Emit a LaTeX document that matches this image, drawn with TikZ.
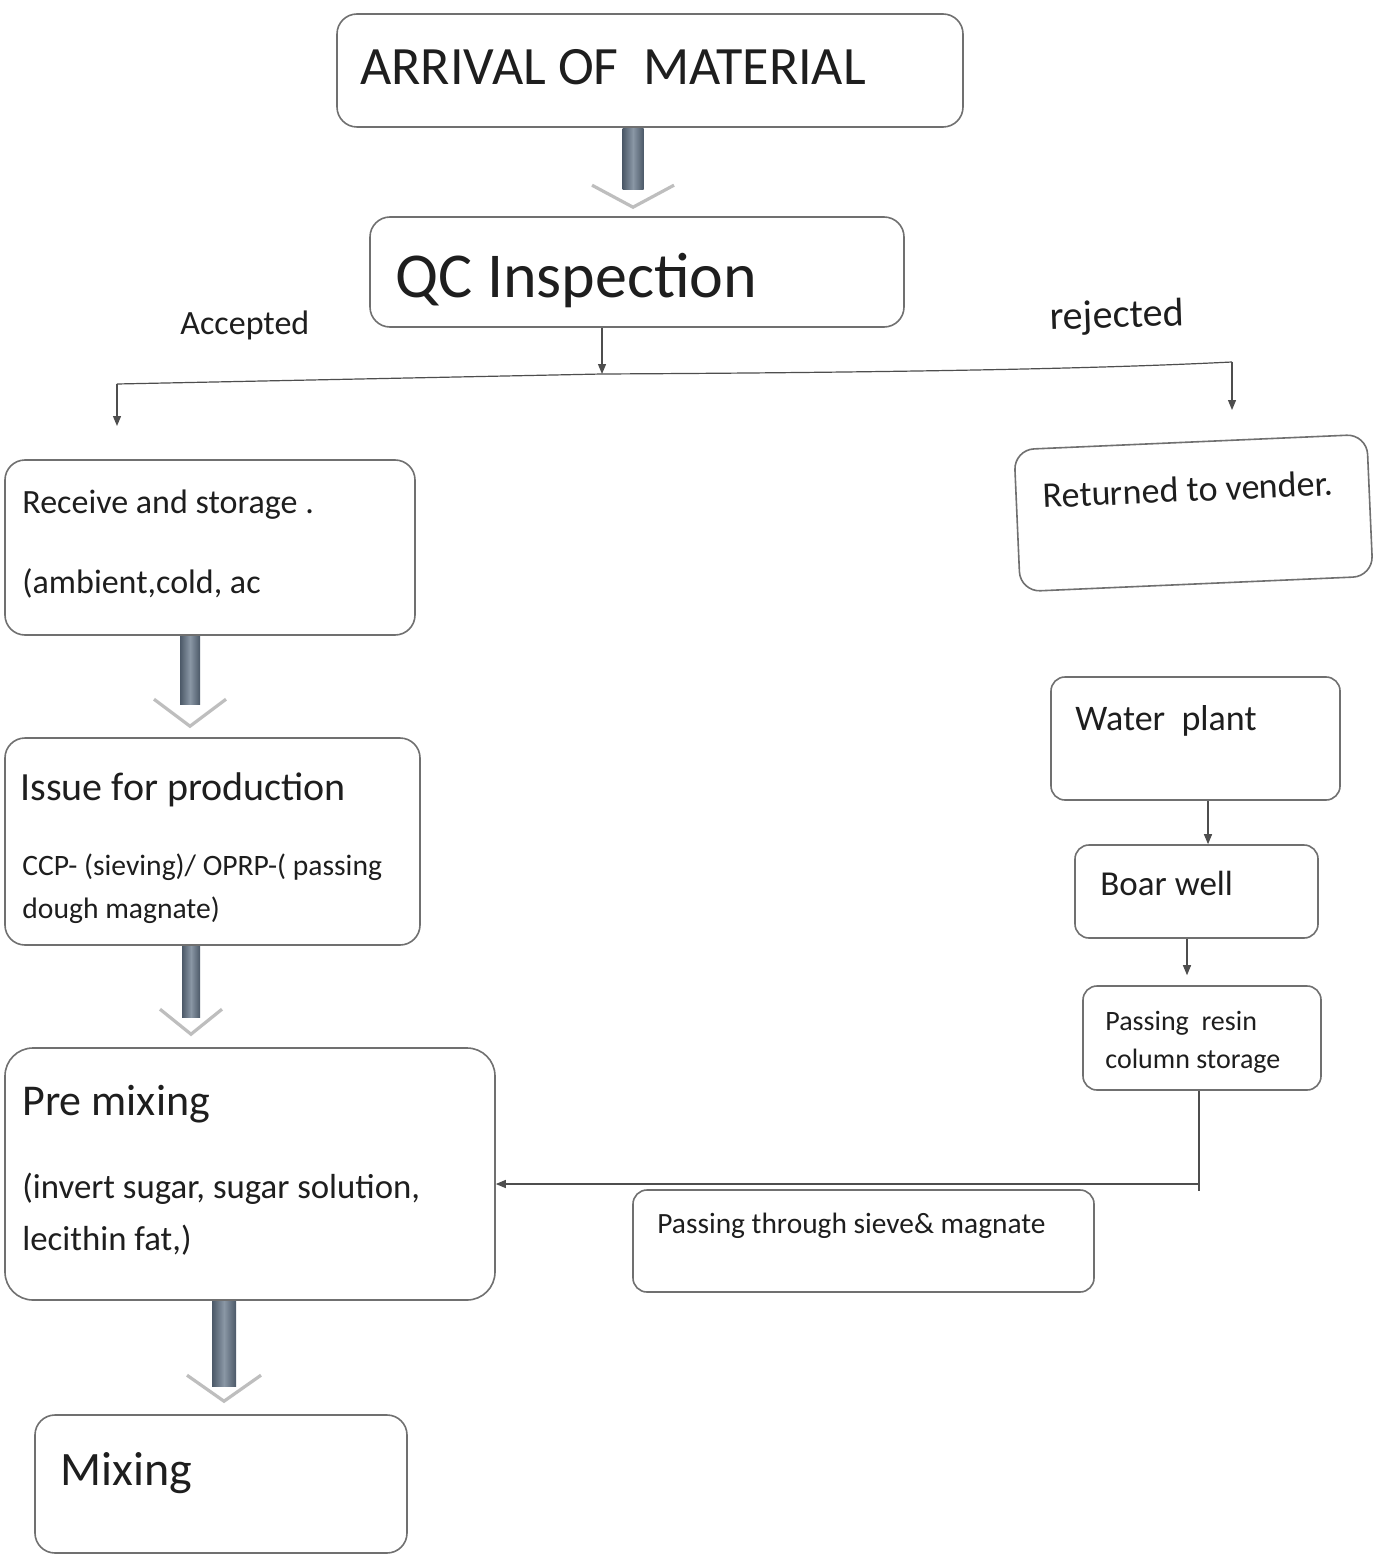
\documentclass[tikz,border=0pt]{standalone}
\usepackage{fontspec}
\setmainfont{Carlito}
\usetikzlibrary{arrows.meta,calc}
\definecolor{ln}{HTML}{707070}
\definecolor{tx}{HTML}{1E1E1E}
\definecolor{shA}{HTML}{4C5968}
\definecolor{shB}{HTML}{8A97A5}
\definecolor{chev}{HTML}{BEBEBE}
\newcommand\fsz[1]{\fontsize{#1}{#1}\selectfont}
\newcommand\fatarr[8]{%
  \draw[chev,line width=1.6pt,line join=miter]
    ($(#2.north -| #3)+(-#5,-#8)$) -- ($(#2.north -| #3)+(0,-#7)$) -- ($(#2.north -| #3)+(#5,-#8)$);
  \shade[left color=shA,right color=shA,middle color=shB]
    ($(#1.south -| #3)+(-#4,1)$) rectangle ($(#2.north -| #3)+(#4,-#6)$);
}
\begin{document}
\begin{tikzpicture}[x=0.5pt,y=-0.5pt,
  box/.style={draw=ln,line width=0.8pt,rounded corners=10pt,inner sep=0pt},
  sbox/.style={box,rounded corners=7pt},
  lbl/.style={anchor=base west,inner sep=0pt,text=tx},
  thinln/.style={draw=ln!70!black,line width=0.6pt},
  tip/.style={-{Triangle[length=5pt,width=4pt]}}]
\useasboundingbox (0,0) rectangle (1381,1556);
\fill[white] (0,0) rectangle (1381,1556);
\clip (0,0) rectangle (1381,1556);

% boxes
\node[box,minimum width=313pt,minimum height=56.5pt] (arrival) at (650,70.5) {};
\node[box,minimum width=267pt,minimum height=55pt] (qc) at (637,272) {};
\node[box,minimum width=205pt,minimum height=87.5pt] (receive) at (210,547.5) {};
\node[box,minimum width=207.5pt,minimum height=103.5pt] (issue) at (212.5,841.5) {};
\node[box,rounded corners=14pt,minimum width=245pt,minimum height=126pt] (premix) at (250,1174) {};
\node[box,minimum width=186pt,minimum height=69pt] (mixing) at (221,1484) {};
\node[box,rotate=2.5,minimum width=176.5pt,minimum height=71pt] (returned) at (1193.5,513) {};
\node[sbox,minimum width=144.5pt,minimum height=61.5pt] (water) at (1195.5,738.5) {};
\node[sbox,minimum width=121.5pt,minimum height=46.5pt] (boar) at (1196.5,891.5) {};
\node[sbox,minimum width=119pt,minimum height=52pt] (resin) at (1202,1038) {};
\node[sbox,minimum width=230.5pt,minimum height=51pt] (sieve) at (863.5,1241) {};

% texts
\node[lbl,font=\fsz{27}] (tArr) at (360,85) {ARRIVAL OF\ \ MATERIAL};
\node[lbl,font=\fsz{32}] (tQC) at (395,298) {QC Inspection};
\node[lbl,font=\fsz{17}] (tAcc) at (180,335) {Accepted};
\node[lbl,font=\fsz{20},rotate=2] (tRej) at (1050,330) {rejected};
\node[lbl,font=\fsz{17}] (tRec1) at (22,513) {Receive and storage .};
\node[lbl,font=\fsz{17}] (tRec2) at (22,593) {(ambient,cold, ac};
\node[lbl,font=\fsz{20}] (tIss1) at (20,800) {Issue for production};
\node[lbl,font=\fsz{14.8}] (tIss2) at (22,875) {CCP- (sieving)/ OPRP-( passing};
\node[lbl,font=\fsz{14.8}] (tIss3) at (22,918) {dough magnate)};
\node[lbl,font=\fsz{22}] (tPre1) at (22,1115) {Pre mixing};
\node[lbl,font=\fsz{17.4}] (tPre2) at (22,1198) {(invert sugar, sugar solution,};
\node[lbl,font=\fsz{17.4}] (tPre3) at (22,1250) {lecithin fat,)};
\node[lbl,font=\fsz{24}] (tMix) at (60,1485) {Mixing};
\node[lbl,font=\fsz{18},rotate=2.5] (tRet) at (1043,508) {Returned to vender.};
\node[lbl,font=\fsz{18}] (tWat) at (1075,730) {Water\ \ plant};
\node[lbl,font=\fsz{17.5}] (tBoar) at (1100,895) {Boar well};
\node[lbl,font=\fsz{14}] (tRes1) at (1105,1030) {Passing\ \ resin};
\node[lbl,font=\fsz{14}] (tRes2) at (1105,1068) {column storage};
\node[lbl,font=\fsz{14.7}] (tSie) at (657,1233) {Passing through sieve\& magnate};

% fat arrows
\coordinate (x1) at (633,0);
\coordinate (x2) at (190,0);
\coordinate (x3) at (191,0);
\coordinate (x4) at (224,0);
\fatarr{arrival}{qc}{x1}{10.5}{41}{27}{9}{31}
\fatarr{receive}{issue}{x2}{10}{36}{33}{11}{38}
\fatarr{issue}{premix}{x3}{9}{31}{30}{13}{38}
\fatarr{premix}{mixing}{x4}{12}{37}{28}{13}{39}

% thin connectors
\coordinate (jq) at (602,374);
\coordinate (jl) at (117,384);
\coordinate (jr) at (1232,362);
\coordinate (al) at (117,426);
\coordinate (ar) at (1232,410);
\draw[thinln,tip] ([xshift=-17.5pt]qc.south) -- (jq);
\draw[thinln] (jl) -- (jq) .. controls (1000,372) and (1150,366) .. (jr);
\draw[thinln,tip] (jl) -- (al);
\draw[thinln,tip] (jr) -- (ar);
\draw[thinln,tip] ([xshift=6.25pt]water.south) -- ([xshift=6.25pt]water.south |- boar.north);
\draw[thinln,tip,shorten >=5pt] ([xshift=-4.75pt]boar.south) -- ([xshift=-4.75pt]boar.south |- resin.north);
\coordinate (rb) at (1199,1191);
\coordinate (rh) at (1199,1184);
\draw[thinln] ([xshift=-1.5pt]resin.south) -- (rb);
\draw[thinln,tip] (rh) -- (premix.east |- rh);
\end{tikzpicture}
\end{document}
